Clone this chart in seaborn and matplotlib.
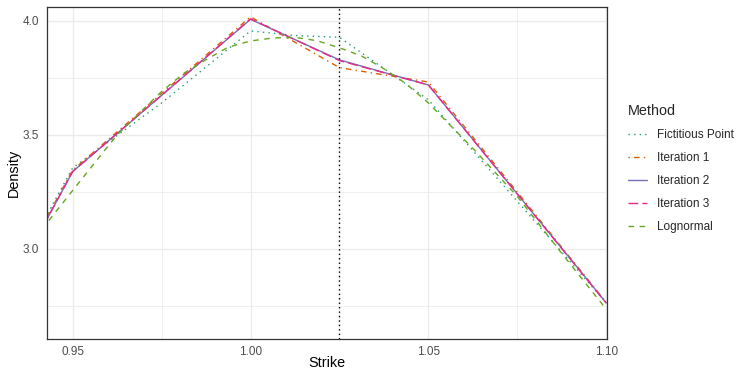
import numpy as np
import pandas as pd
import matplotlib
matplotlib.use("Agg")
import matplotlib.pyplot as plt
from matplotlib.lines import Line2D
import seaborn as sns

# ---------------- data ----------------
methods = ["Fictitious Point", "Iteration 1", "Iteration 2", "Iteration 3", "Lognormal"]

fict_strike = [0.94, 0.95, 0.975, 1.00, 1.0125, 1.025, 1.05, 1.10]
fict_density = [3.07, 3.355, 3.64, 3.956, 3.936, 3.928, 3.654, 2.763]

iter1_strike = [0.94, 0.95, 1.00, 1.025, 1.05, 1.10]
iter1_density = [3.06, 3.345, 4.018, 3.795, 3.732, 2.765]

iter2_strike = [0.94, 0.95, 1.00, 1.025, 1.05, 1.10]
iter2_density = [3.05, 3.339, 4.007, 3.829, 3.719, 2.763]

iter3_strike = [0.94, 0.95, 1.00, 1.025, 1.05, 1.10]
iter3_density = [3.05, 3.339, 4.009, 3.826, 3.719, 2.762]

logn_strike = [0.9375, 0.95, 0.9625, 0.975, 0.98125, 0.9875, 0.99375, 1.00,
               1.00625, 1.0125, 1.01875, 1.025, 1.03125, 1.0375, 1.04375,
               1.05, 1.0625, 1.075, 1.0875, 1.10]
logn_density = [3.01, 3.256, 3.50, 3.69, 3.77, 3.83, 3.885, 3.912,
                3.925, 3.928, 3.913, 3.882, 3.846, 3.79, 3.724,
                3.64, 3.441, 3.23, 2.98, 2.735]

spot_strike = 1.025

x_ticks = [0.95, 1.00, 1.05, 1.10]
x_ticklabels = ["0.95", "1.00", "1.05", "1.10"]
y_ticks = [3.0, 3.5, 4.0]
y_ticklabels = ["3.0", "3.5", "4.0"]

series = {
    "Fictitious Point": (fict_strike, fict_density),
    "Iteration 1": (iter1_strike, iter1_density),
    "Iteration 2": (iter2_strike, iter2_density),
    "Iteration 3": (iter3_strike, iter3_density),
    "Lognormal": (logn_strike, logn_density),
}
df = pd.concat(
    [pd.DataFrame({"Strike": s, "Density": d, "Method": m}) for m, (s, d) in series.items()],
    ignore_index=True,
)

# ---------------- style ----------------
sns.set_style("white")
plt.rcParams["font.family"] = ["Liberation Sans", "DejaVu Sans"]

colors = ["#1B9E77", "#D95F02", "#7570B3", "#E7298A", "#66A61E"]
palette = dict(zip(methods, colors))
dash_map = {
    "Fictitious Point": (1, 3),
    "Iteration 1": (1, 3, 4, 3),
    "Iteration 2": "",
    "Iteration 3": (7, 3),
    "Lognormal": (4, 4),
}
LW = 1.0

fig = plt.figure(figsize=(7.47, 3.74), dpi=100)
W, H = 747, 374
left, right, top, bottom = 47, 607, 7, 338.5
ax = fig.add_axes([left / W, 1 - bottom / H, (right - left) / W, (bottom - top) / H])

sns.lineplot(
    data=df, x="Strike", y="Density", hue="Method", style="Method",
    hue_order=methods, style_order=methods, palette=palette, dashes=dash_map,
    estimator=None, sort=True, linewidth=LW, ax=ax, legend=False,
)
ax.axvline(spot_strike, color="black", lw=LW, dashes=(1, 2.2))

ax.set_xlim(0.9428, 1.1002)
ax.set_ylim(2.607, 4.061)

ax.set_xticks(x_ticks)
ax.set_xticklabels(x_ticklabels)
ax.set_yticks(y_ticks)
ax.set_yticklabels(y_ticklabels)
ax.set_xticks([0.975, 1.025, 1.075], minor=True)
ax.set_yticks([2.75, 3.25, 3.75], minor=True)

ax.grid(which="major", color="#EBEBEB", lw=1.0)
ax.grid(which="minor", color="#EBEBEB", lw=0.55)
ax.set_axisbelow(True)

for sp in ax.spines.values():
    sp.set_visible(True)
    sp.set_color("#333333")
    sp.set_linewidth(0.9)

ax.tick_params(which="major", length=3, width=0.8, color="#333333",
               labelcolor="#4D4D4D", labelsize=8.5, pad=2.5)
ax.tick_params(which="minor", length=0)

ax.set_xlabel("Strike", fontsize=10.4, color="black", labelpad=-1.5)
ax.set_ylabel("Density", fontsize=10.4, color="black", labelpad=1.5)

handles = [Line2D([0], [0], color=palette[m], lw=LW,
                  **({} if dash_map[m] == "" else {"dashes": dash_map[m]}))
           for m in methods]
leg = fig.legend(handles, methods, title="Method", loc="upper left",
                 bbox_to_anchor=(623 / W, 1 - 99 / H), frameon=False,
                 fontsize=8.5, title_fontsize=10.4, handlelength=1.65,
                 handletextpad=0.8, labelspacing=0.94, borderaxespad=0)
leg._legend_box.align = "left"

fig.savefig("out.png", dpi=100)
